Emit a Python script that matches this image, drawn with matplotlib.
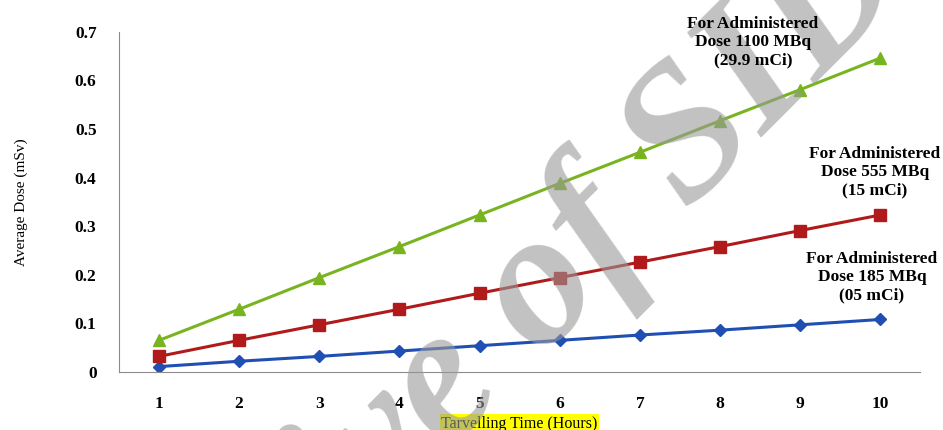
import matplotlib.pyplot as plt

plt.rcParams['font.family'] = ['Liberation Serif', 'DejaVu Serif']

# data
hours = [1, 2, 3, 4, 5, 6, 7, 8, 9, 10]
dose_185 = [0.011, 0.022, 0.032, 0.043, 0.054, 0.065, 0.076, 0.086, 0.097, 0.108]
dose_555 = [0.032, 0.065, 0.097, 0.129, 0.162, 0.194, 0.226, 0.258, 0.291, 0.323]
dose_1100 = [0.065, 0.129, 0.194, 0.258, 0.323, 0.388, 0.452, 0.517, 0.581, 0.646]
yticks = [0, 0.1, 0.2, 0.3, 0.4, 0.5, 0.6, 0.7]
ytick_labels = ['0', '0.1', '0.2', '0.3', '0.4', '0.5', '0.6', '0.7']

fig = plt.figure(figsize=(9.43, 4.3), dpi=100)
ax = fig.add_axes([0.126, 0.135, 0.85, 0.791])

ax.plot(hours, dose_185, color='#1f4fb2', lw=2.2, marker='D', ms=6)
ax.plot(hours, dose_555, color='#b01a1a', lw=2.2, marker='s', ms=8)
ax.plot(hours, dose_1100, color='#78b420', lw=2.2, marker='^', ms=9)

ax.set_xlim(0.5, 10.5)
ax.set_ylim(0, 0.7)
ax.set_xticks(hours)
ax.set_yticks(yticks)
ax.set_yticklabels(ytick_labels)
ax.tick_params(axis='y', length=0, labelsize=12.5, pad=16)
ax.tick_params(axis='x', length=0, labelsize=12.5, pad=17)
for lab in ax.get_xticklabels() + ax.get_yticklabels():
    lab.set_fontweight('bold')

for s in ['top', 'right']:
    ax.spines[s].set_visible(False)
for s in ['left', 'bottom']:
    ax.spines[s].set_color('#8c8c8c')

ax.set_ylabel('Average Dose (mSv)', fontsize=11, labelpad=34)
ax.set_xlabel('Tarvelling Time (Hours)', fontsize=11.5, labelpad=3,
              bbox=dict(facecolor='#ffff00', edgecolor='none', pad=1))

note_kw = dict(ha='center', va='center', fontsize=12.5, fontweight='bold',
               linespacing=1.2, zorder=5)
fig.text(753 / 943, 1 - 42 / 430, 'For Administered\nDose 1100 MBq\n(29.9 mCi)', **note_kw)
fig.text(875 / 943, 1 - 172 / 430, 'For Administered\nDose 555 MBq\n(15 mCi)', **note_kw)
fig.text(872 / 943, 1 - 277 / 430, 'For Administered\nDose 185 MBq\n(05 mCi)', **note_kw)

# watermark
fig.text(462 / 943, 1 - 380 / 430, 'Archive of SID', ha='center', va='center',
         rotation=45, rotation_mode='anchor', fontsize=138, fontweight='bold',
         fontstyle='italic', color='#999999', alpha=0.6, zorder=3)

plt.savefig('out.png')
